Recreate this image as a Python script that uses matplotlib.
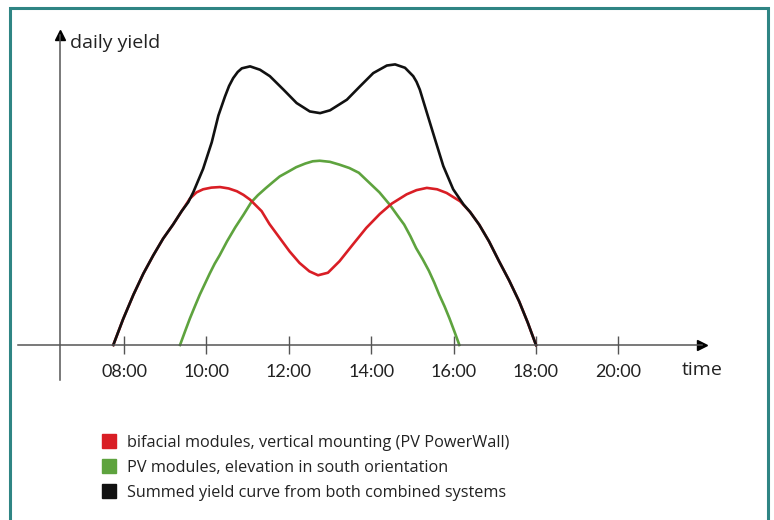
import matplotlib

matplotlib.use("Agg")

import matplotlib.pyplot as plt
from matplotlib.lines import Line2D
from matplotlib.patches import Rectangle

plt.rcParams["font.family"] = ["Open Sans", "DejaVu Sans"]

RED = "#D91E25"
GREEN = "#5EA33E"
BLACK = "#111111"
AXIS_GRAY = "#555555"
TEAL = "#2F8584"
TEXT_COLOR = "#222222"

# time in hours, yield in arbitrary units
bifacial_t = [7.74, 7.98, 8.23, 8.47, 8.71, 8.95, 9.19, 9.40, 9.50, 9.60,
              9.76, 9.92, 10.12, 10.33, 10.54, 10.74, 10.90, 11.06, 11.34, 11.53,
              11.78, 12.02, 12.26, 12.5, 12.71, 12.95, 13.23, 13.55, 13.88, 14.21,
              14.50, 14.86, 15.1, 15.35, 15.6, 15.83, 16.16, 16.40, 16.62, 16.86,
              17.10, 17.35, 17.59, 17.8, 18.0]
bifacial_y = [0, 9.3, 18, 25.5, 32, 38, 43, 47.8, 50, 52.3,
              54.5, 55.6, 56.2, 56.4, 55.9, 54.9, 53.6, 51.9, 47.8, 43.2,
              38.2, 33.4, 29.3, 26.3, 24.9, 25.8, 29.9, 35.8, 41.8, 46.8,
              50.5, 53.8, 55.3, 56.1, 55.6, 54.3, 51.3, 47.5, 43, 37,
              30, 23, 15.6, 8, 0]

south_t = [9.36, 9.48, 9.6, 9.72, 9.84, 10.08, 10.2, 10.32, 10.5, 10.7,
           10.9, 11.09, 11.25, 11.44, 11.6, 11.78, 12.0, 12.18, 12.4, 12.58,
           12.75, 13.0, 13.23, 13.47, 13.7, 13.95, 14.2, 14.45, 14.65, 14.8,
           14.95, 15.09, 15.25, 15.4, 15.53, 15.65, 15.78, 15.9, 16.02, 16.14]
south_y = [0, 4.8, 9.5, 13.8, 18, 25.5, 29, 32, 37, 42,
           46.5, 51, 53.5, 56, 58, 60.2, 62, 63.5, 64.8, 65.6,
           65.8, 65.4, 64.4, 63.2, 61.5, 58, 54.5, 50.1, 46, 43,
           38.9, 34.6, 30.6, 26.5, 22.3, 18, 13.8, 9.5, 4.8, 0]

summed_t = [7.74, 7.98, 8.23, 8.47, 8.71, 8.95, 9.19, 9.40, 9.56, 9.68,
            9.92, 10.13, 10.29, 10.45, 10.55, 10.65, 10.76, 10.86, 11.06, 11.30,
            11.54, 11.87, 12.19, 12.51, 12.76, 13.0, 13.41, 13.73, 14.05, 14.38,
            14.58, 14.82, 15.02, 15.1, 15.18, 15.35, 15.55, 15.75, 15.99, 16.24,
            16.40, 16.62, 16.86, 17.10, 17.35, 17.59, 17.8, 18.0]
summed_y = [0, 9.3, 18, 25.5, 32, 38, 43, 47.8, 51, 54.5,
            62.9, 72.4, 81.9, 88.7, 92.5, 95.3, 97.5, 98.8, 99.5, 98.3,
            96, 91.2, 86.4, 83.4, 82.8, 83.8, 87.6, 92.4, 97.1, 99.8,
            100.2, 99, 96, 94, 91.2, 83, 73.4, 63.9, 55.6, 50.2,
            47.5, 43, 37, 30, 23, 15.6, 8, 0]

hours = [8, 10, 12, 14, 16, 18, 20]
hour_labels = ["08:00", "10:00", "12:00", "14:00", "16:00", "18:00", "20:00"]

legend_labels = [
    "bifacial modules, vertical mounting (PV PowerWall)",
    "PV modules, elevation in south orientation",
    "Summed yield curve from both combined systems",
]

fig = plt.figure(figsize=(7.74, 5.2), dpi=100, facecolor="white")
ax = fig.add_axes([0, 0, 1, 1])
ax.set_xlim(4.99, 23.777)
ax.set_ylim(-62.5, 123.2)
ax.set_facecolor("white")

# axes drawn as arrows, y axis a bit left of the first hour
x_start, x_end = 5.43, 22.03
y_axis_x, y_bottom, y_top = 6.45, -12.5, 110.7

for name in ("top", "right"):
    ax.spines[name].set_visible(False)
ax.spines["bottom"].set_position(("data", 0))
ax.spines["bottom"].set_bounds(x_start, x_end)
ax.spines["left"].set_position(("data", y_axis_x))
ax.spines["left"].set_bounds(y_bottom, y_top)
for name in ("bottom", "left"):
    ax.spines[name].set_color(AXIS_GRAY)
    ax.spines[name].set_linewidth(1.1)

ax.plot(x_end, 0, marker=">", color="black", markersize=7, clip_on=False)
ax.plot(y_axis_x, y_top, marker="^", color="black", markersize=7, clip_on=False)

ax.set_yticks([])
ax.set_xticks(hours)
ax.set_xticklabels(hour_labels, family=["Lato", "DejaVu Sans"])
ax.tick_params(axis="x", direction="inout", length=13, width=1.0, color=AXIS_GRAY,
               pad=7, labelsize=13, labelcolor=TEXT_COLOR)

ax.plot(south_t, south_y, color=GREEN, linewidth=1.9, solid_joinstyle="round")
ax.plot(bifacial_t, bifacial_y, color=RED, linewidth=1.9, solid_joinstyle="round")
ax.plot(summed_t, summed_y, color=BLACK, linewidth=1.9, solid_joinstyle="round")

ax.text(6.69, 107.9, "daily yield", fontsize=14, color=TEXT_COLOR, ha="left", va="center")
ax.text(22.03, -8.9, "time", fontsize=14, color=TEXT_COLOR, ha="center", va="center")

handles = [
    Line2D([], [], linestyle="none", marker="s", markersize=9.5, color=c)
    for c in (RED, GREEN, BLACK)
]
fig.legend(handles, legend_labels, loc="upper left", bbox_to_anchor=(0.131, 0.164),
           frameon=False, fontsize=11.7, handlelength=0.95, handletextpad=0.6,
           labelspacing=0.55, borderpad=0, borderaxespad=0, labelcolor=TEXT_COLOR)

# teal frame around the whole panel, open at the bottom edge
fig.patches.append(Rectangle((10 / 774, -0.02), 758 / 774, 1 - 8 / 520 + 0.02,
                             transform=fig.transFigure, fill=False,
                             edgecolor=TEAL, linewidth=2.2))

fig.savefig("out.png", dpi=100, facecolor="white")
